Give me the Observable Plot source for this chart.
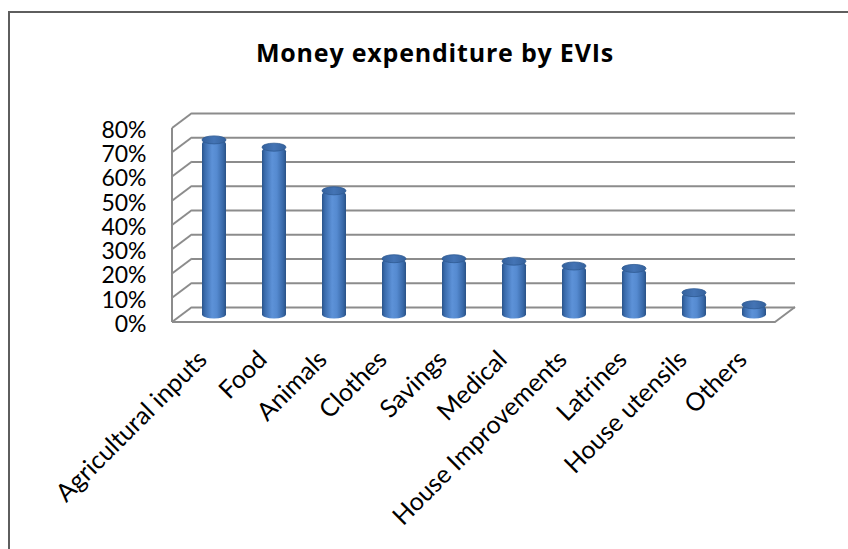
<!DOCTYPE html>
<html><head><meta charset="utf-8">
<script src="https://cdn.jsdelivr.net/npm/d3@7"></script>
<script src="https://cdn.jsdelivr.net/npm/@observablehq/plot@0.6"></script>
<style>
body{margin:0;background:#fff;}
#wrap{position:relative;width:848px;height:549px;overflow:hidden;background:#fff;font-family:Lato,sans-serif;}
#frame{position:absolute;left:8px;top:11px;width:900px;height:600px;border-top:2.5px solid #5e5e5e;border-left:2.5px solid #5e5e5e;}
#title{position:absolute;left:11px;width:848px;top:39.5px;text-align:center;font:bold 25px/25px "Open Sans",sans-serif;letter-spacing:0.8px;color:#000;}
#chart{position:absolute;left:0;top:0;}
</style></head><body>
<div id="wrap"><div id="frame"></div><div id="chart"></div><div id="title">Money expenditure by EVIs</div></div>
<script>
const categories = ["Agricultural inputs","Food","Animals","Clothes","Savings","Medical","House Improvements","Latrines","House utensils","Others"];
const values = [0.72, 0.69, 0.51, 0.23, 0.23, 0.22, 0.20, 0.19, 0.09, 0.04];
const yTicks = [0, 0.1, 0.2, 0.3, 0.4, 0.5, 0.6, 0.7, 0.8];
const yTickLabels = ["0%","10%","20%","30%","40%","50%","60%","70%","80%"];

const data = categories.map((c, i) => ({category: c, value: values[i]}));
const ticks = yTicks.map((t, i) => ({t, label: yTickLabels[i]}));

const dX = 10, dY = 7.5; // half depth offset of the 3D box
const lineColor = "#8c8c8c";

const walls = (index, scales, vals, dims) => {
  const y = scales.y;
  const xl = dims.marginLeft, xr = dims.width - dims.marginRight;
  const g = d3.create("svg:g");
  const defs = g.append("defs");
  const body = defs.append("linearGradient").attr("id", "cylBody").attr("x1", 0).attr("x2", 1).attr("y1", 0).attr("y2", 0);
  [[0, "#2a548a"], [0.12, "#3b6cad"], [0.42, "#5d92d8"], [0.62, "#558ad0"], [0.88, "#3868a7"], [1, "#2a5286"]]
    .forEach(([o, c]) => body.append("stop").attr("offset", o).attr("stop-color", c));
  const top = defs.append("linearGradient").attr("id", "cylTop").attr("x1", 0).attr("x2", 1).attr("y1", 0).attr("y2", 0);
  [[0, "#34619c"], [0.5, "#4474b5"], [1, "#34619c"]]
    .forEach(([o, c]) => top.append("stop").attr("offset", o).attr("stop-color", c));
  const lines = g.append("g").attr("fill", "none").attr("stroke", lineColor).attr("stroke-width", 2).attr("stroke-linejoin", "round");
  lines.append("line").attr("x1", xl - dX).attr("x2", xl - dX).attr("y1", y(0) + dY).attr("y2", y(0.8) + dY);
  for (const t of yTicks) {
    lines.append("line").attr("x1", xl - dX).attr("y1", y(t) + dY).attr("x2", xl + dX).attr("y2", y(t) - dY);
  }
  lines.append("path").attr("d", `M${xl - dX},${y(0) + dY}L${xr - dX},${y(0) + dY}L${xr + dX},${y(0) - dY}`);
  return g.node();
};

const chart = Plot.plot({
  width: 848, height: 549,
  marginLeft: 182, marginRight: 63, marginTop: 120.5, marginBottom: 234.5,
  x: {type: "band", domain: categories, padding: 0, axis: null},
  y: {domain: [0, 0.8], axis: null},
  style: {background: "transparent", fontFamily: "Lato, sans-serif", color: "#000"},
  marks: [
    walls,
    Plot.ruleY(yTicks, {y: d => d, dx: dX, dy: -dY, stroke: lineColor, strokeWidth: 2}),
    Plot.barY(data, {x: "category", y: "value", fill: "url(#cylBody)", insetLeft: 18, insetRight: 18, insetBottom: -4, rx: 12, ry: 4}),
    Plot.barY(data, {x: "category", y1: "value", y2: "value", fill: "url(#cylTop)", stroke: "#2f5b93", strokeWidth: 0.8, insetLeft: 18, insetRight: 18, insetTop: -4, insetBottom: -4, rx: 12, ry: 4}),
    Plot.text(ticks, {y: "t", text: "label", frameAnchor: "left", textAnchor: "end", dx: -36, dy: 9.5, fontSize: 23, fill: "#000"}),
    Plot.text(data, {x: "category", text: "category", frameAnchor: "bottom", rotate: -45, textAnchor: "end", lineAnchor: "bottom", dx: -6, dy: 46, fontSize: 25, fill: "#000"})
  ]
});
document.getElementById("chart").appendChild(chart);
</script>
</body></html>
